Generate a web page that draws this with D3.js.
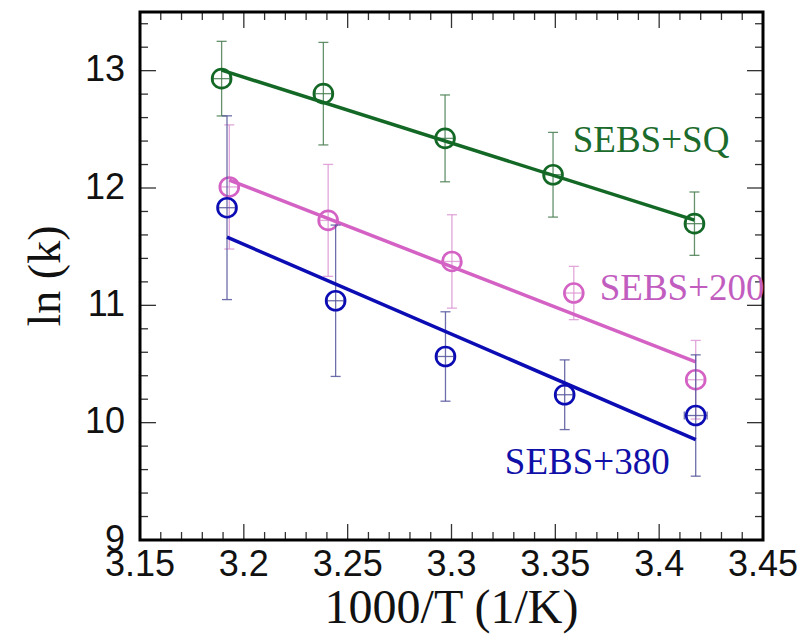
<!DOCTYPE html>
<html><head><meta charset="utf-8">
<script src="https://cdn.jsdelivr.net/npm/d3@7"></script>
<style>body{margin:0;background:#fff}</style>
</head><body><svg id="c" width="804" height="634"></svg>
<script>
// ---- data ----
const seriesNames = ["SEBS+SQ", "SEBS+200", "SEBS+380"];
const sqX   = [3.1893, 3.2383, 3.2969, 3.3489, 3.4170];
const sqY   = [12.932, 12.804, 12.423, 12.113, 11.696];
const sqErr = [0.318, 0.437, 0.370, 0.361, 0.270];
const sqXErr = [0.004, 0.004, 0.004, 0.004, 0.004];
const s200X   = [3.1930, 3.2406, 3.3002, 3.3589, 3.4176];
const s200Y   = [12.009, 11.724, 11.374, 11.105, 10.366];
const s200Err = [0.529, 0.477, 0.398, 0.227, 0.335];
const s200XErr = [0.004, 0.004, 0.004, 0.004, 0.004];
const s380X   = [3.1919, 3.2442, 3.2971, 3.3545, 3.4176];
const s380Y   = [11.832, 11.039, 10.564, 10.238, 10.061];
const s380Err = [0.783, 0.645, 0.381, 0.297, 0.517];
const s380XErr = [0.004, 0.004, 0.004, 0.004, 0.0055];
const xTicks = [3.15, 3.2, 3.25, 3.3, 3.35, 3.4, 3.45];
const yTicks = [9, 10, 11, 12, 13];

const series = [
  {name: seriesNames[0], x: sqX, y: sqY, e: sqErr, xe: sqXErr, color: "#146826", err: "#4a7f52", text: "#1b6b2c", label:[3.3584, 12.31]},
  {name: seriesNames[1], x: s200X, y: s200Y, e: s200Err, xe: s200XErr, color: "#d462c4", err: "#dc98d4", text: "#c25dc0", label:[3.3714, 11.046]},
  {name: seriesNames[2], x: s380X, y: s380Y, e: s380Err, xe: s380XErr, color: "#0c0cb4", err: "#55559c", text: "#1010a8", label:[3.3257, 9.563]}
];

const svg = d3.select("#c");
const L = 140, R = 763, T = 12, B = 540;
const x = d3.scaleLinear().domain([3.15, 3.45]).range([L, R]);
const y = d3.scaleLinear().domain([9, 13.5]).range([B, T]);

// ticks (inward, all four sides)
const xMinor = d3.range(0, 31).map(i => 3.15 + i * 0.01);
const yMinor = d3.range(0, 23).map(i => 9 + i * 0.2);
const g = svg.append("g");
function isMajor(v, step){ return Math.abs(v/step - Math.round(v/step)) < 1e-6; }
xMinor.forEach(v => {
  const len = isMajor(v, 0.05) ? 16 : 8;
  g.append("line").attr("x1", x(v)).attr("x2", x(v)).attr("y1", B).attr("y2", B - len).attr("stroke", "#333").attr("stroke-width", 1.3);
  g.append("line").attr("x1", x(v)).attr("x2", x(v)).attr("y1", T).attr("y2", T + len).attr("stroke", "#333").attr("stroke-width", 1.3);
});
yMinor.forEach(v => {
  const len = isMajor(v, 1) ? 16 : 8;
  g.append("line").attr("y1", y(v)).attr("y2", y(v)).attr("x1", L).attr("x2", L + len).attr("stroke", "#333").attr("stroke-width", 1.3);
  g.append("line").attr("y1", y(v)).attr("y2", y(v)).attr("x1", R).attr("x2", R - len).attr("stroke", "#333").attr("stroke-width", 1.3);
});
svg.append("rect").attr("x", L).attr("y", T).attr("width", R - L).attr("height", B - T)
  .attr("fill", "none").attr("stroke", "#000").attr("stroke-width", 3);

// tick labels
svg.append("g").selectAll("text").data(xTicks).join("text")
  .attr("x", d => x(d)).attr("y", B + 36).attr("text-anchor", "middle")
  .attr("font-family", "Liberation Sans, Arial, sans-serif").attr("font-size", 36).attr("fill", "#111")
  .text(d => d3.format("")(d));
svg.append("g").selectAll("text").data(yTicks).join("text")
  .attr("x", L - 15).attr("y", d => y(d)).attr("dy", "0.3em").attr("text-anchor", "end")
  .attr("font-family", "Liberation Sans, Arial, sans-serif").attr("font-size", 36).attr("fill", "#111")
  .text(d => d);

// axis titles
svg.append("text").attr("x", (L + R) / 2).attr("y", 623).attr("text-anchor", "middle")
  .attr("font-family", "Liberation Serif, Times New Roman, serif").attr("font-size", 48).attr("fill", "#111")
  .text("1000/T (1/K)");
svg.append("text").attr("transform", `translate(60,${(T + B) / 2}) rotate(-90)`).attr("text-anchor", "middle")
  .attr("font-family", "Liberation Serif, Times New Roman, serif").attr("font-size", 46).attr("fill", "#111")
  .text("ln (k)");

// series
series.forEach(s => {
  const pts = s.x.map((xv, i) => ({x: xv, y: s.y[i], e: s.e[i], xe: s.xe[i]}));
  const eg = svg.append("g").attr("stroke", s.err).attr("stroke-width", 1.3).attr("stroke-opacity", 0.85);
  pts.forEach(p => {
    eg.append("line").attr("x1", x(p.x)).attr("x2", x(p.x)).attr("y1", y(p.y - p.e)).attr("y2", y(p.y + p.e));
    eg.append("line").attr("x1", x(p.x) - 5).attr("x2", x(p.x) + 5).attr("y1", y(p.y - p.e)).attr("y2", y(p.y - p.e));
    eg.append("line").attr("x1", x(p.x) - 5).attr("x2", x(p.x) + 5).attr("y1", y(p.y + p.e)).attr("y2", y(p.y + p.e));
    eg.append("line").attr("x1", x(p.x - p.xe)).attr("x2", x(p.x + p.xe)).attr("y1", y(p.y)).attr("y2", y(p.y));
    eg.append("line").attr("x1", x(p.x - p.xe)).attr("x2", x(p.x - p.xe)).attr("y1", y(p.y) - 4).attr("y2", y(p.y) + 4);
    eg.append("line").attr("x1", x(p.x + p.xe)).attr("x2", x(p.x + p.xe)).attr("y1", y(p.y) - 4).attr("y2", y(p.y) + 4);
  });
  // least squares fit
  const mx = d3.mean(s.x), my = d3.mean(s.y);
  const sxy = d3.sum(s.x, (xv, i) => (xv - mx) * (s.y[i] - my));
  const sxx = d3.sum(s.x, xv => (xv - mx) ** 2);
  const slope = sxy / sxx, icpt = my - slope * mx;
  const ext = d3.extent(s.x);
  svg.append("path").datum(ext).attr("fill", "none").attr("stroke", s.color).attr("stroke-width", 3.5)
    .attr("d", d3.line().x(d => x(d)).y(d => y(icpt + slope * d)));
  svg.append("g").selectAll("circle").data(pts).join("circle")
    .attr("cx", d => x(d.x)).attr("cy", d => y(d.y)).attr("r", 9.5)
    .attr("fill", "none").attr("stroke", s.color).attr("stroke-width", 2.6);
  svg.append("text").attr("x", x(s.label[0])).attr("y", y(s.label[1]))
    .attr("font-family", "Liberation Serif, Times New Roman, serif").attr("font-size", 37).attr("fill", s.text)
    .text(s.name);
});
</script></body></html>
